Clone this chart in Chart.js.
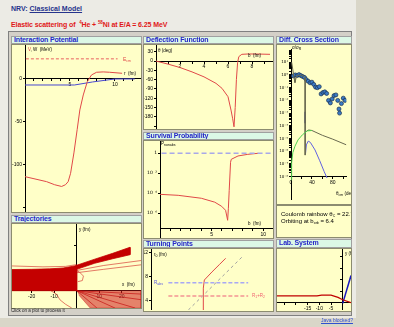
<!DOCTYPE html>
<html>
<head>
<meta charset="utf-8">
<title>NRV: Classical Model</title>
<script src="https://cdn.jsdelivr.net/npm/chart.js@4.4.1/dist/chart.umd.min.js"></script>
<style>
  body { margin:0; width:394px; height:327px; overflow:hidden; background:#d9d6c8; font-family:"Liberation Sans", Arial, sans-serif; }
  #page { position:absolute; left:0; top:0; width:356px; height:318px; background:#ecebe5; }
  #head { position:absolute; left:11px; top:5px; font:bold 7px "Liberation Sans"; color:#26348c; white-space:nowrap; }
  #sub { position:absolute; left:11px; top:21px; font:bold 7px "Liberation Sans"; color:#e01818; white-space:nowrap; letter-spacing:-0.1px; }
  #sub sup { font-size:4.5px; vertical-align:3px; line-height:0; }
  #applet { position:absolute; left:8px; top:31px; width:342px; height:283px; background:#d4d0c8; border:1px solid #808080; }
  .tb { position:absolute; box-sizing:border-box; height:8px; background:#dcf8e6; border:1px solid #a0a0a0; font:bold 7px/6px "Liberation Sans"; color:#2626c8; padding-left:2px; white-space:nowrap; overflow:hidden; letter-spacing:-0.15px; }
  .pl { position:absolute; background:#ffffc8; border:1px solid #8c8c70; overflow:hidden; }
  .pl canvas { position:absolute; left:0; top:0; }
  .t { position:absolute; font-size:4.5px; line-height:5px; white-space:nowrap; color:#000; }
  .t sub { font-size:3.5px; vertical-align:-1px; line-height:0; }
  #status { position:absolute; left:9px; top:308px; width:132px; height:6px; font-size:4.5px; line-height:6px; color:#222; padding-left:2px; box-sizing:border-box; }
  #java { position:absolute; left:321px; top:317px; font-size:5px; color:#3050d0; text-decoration:underline; }
</style>
</head>
<body>
<div id="page"></div>
<div id="head">NRV: <u>Classical Model</u></div>
<div id="sub">Elastic scattering of &nbsp;<sup>4</sup>He + <sup>58</sup>Ni at E/A = 6.25 MeV</div>
<div id="applet"></div>

<!-- Interaction Potential -->
<div class="tb" style="left:11px;top:36px;width:131px;">Interaction Potential</div>
<div class="pl" style="left:11px;top:44px;width:129px;height:167px;">
  <canvas id="cvPot" width="129" height="167"></canvas>
  <div class="t" style="left:16px;top:2px;"><span style="color:#e04848">V</span>, W &nbsp;(MeV)</div>
  <div class="t" style="left:111px;top:12px;color:#e04848;font-size:5px;">E<sub>cm</sub></div>
  <div class="t" style="left:112px;top:26px;">r &nbsp;(fm)</div>
</div>

<!-- Deflection Function -->
<div class="tb" style="left:143px;top:36px;width:131px;">Deflection Function</div>
<div class="pl" style="left:143px;top:44px;width:129px;height:84px;">
  <canvas id="cvDefl" width="129" height="84"></canvas>
  <div class="t" style="left:14px;top:3px;">&theta; (deg)</div>
  <div class="t" style="left:104px;top:8px;">b &nbsp;(fm)</div>
</div>

<!-- Survival Probability -->
<div class="tb" style="left:143px;top:132px;width:131px;">Survival Probability</div>
<div class="pl" style="left:143px;top:140px;width:129px;height:97px;">
  <canvas id="cvSurv" width="129" height="97"></canvas>
  <div class="t" style="left:17px;top:0px;">P<sub>nonabs</sub></div>
  <div class="t" style="left:104px;top:80px;">b &nbsp;(fm)</div>
</div>

<!-- Turning Points -->
<div class="tb" style="left:143px;top:240px;width:131px;">Turning Points</div>
<div class="pl" style="left:143px;top:248px;width:129px;height:62px;">
  <canvas id="cvTurn" width="129" height="61"></canvas>
  <div class="t" style="left:10px;top:3px;">r<sub>0</sub> (fm)</div>
  <div class="t" style="left:10px;top:31px;color:#5050e0;">R<sub>abs</sub></div>
  <div class="t" style="left:108px;top:44px;color:#f06070;">R<sub>1</sub>+R<sub>2</sub></div>
</div>

<!-- Diff. Cross Section -->
<div class="tb" style="left:276px;top:36px;width:76px;">Diff. Cross Section</div>
<div class="pl" style="left:276px;top:44px;width:74px;height:159px;">
  <canvas id="cvCs" width="74" height="159"></canvas>
  <div class="t" style="left:15px;top:0px;">&sigma;/&sigma;<sub>R</sub></div>
  <div class="t" style="left:59px;top:146px;">&theta;<sub>cm</sub> (deg)</div>
</div>

<!-- info box -->
<div class="pl" style="left:276px;top:205px;width:74px;height:31px;">
  <div class="t" style="left:4px;top:5px;font-size:6px;line-height:7px;">Coulomb rainbow &theta;<sub>C</sub> = 22.7&deg;</div>
  <div class="t" style="left:4px;top:12px;font-size:6px;line-height:7px;">Orbiting at b<sub>orb</sub> = 6.4</div>
</div>

<!-- Lab. System -->
<div class="tb" style="left:276px;top:239px;width:76px;height:9px;">Lab. System</div>
<div class="pl" style="left:276px;top:248px;width:74px;height:62px;">
  <canvas id="cvLab" width="74" height="61"></canvas>
  <div class="t" style="left:68px;top:2px;">y (fm)</div>
</div>

<!-- Trajectories -->
<div class="tb" style="left:11px;top:215px;width:131px;">Trajectories</div>
<div class="pl" style="left:11px;top:223px;width:129px;height:84px;">
  <canvas id="cvTraj" width="129" height="84"></canvas>
  <div class="t" style="left:67px;top:3px;">y (fm)</div>
  <div class="t" style="left:110px;top:58px;">x &nbsp;(fm)</div>
</div>
<div id="status">Click on a plot to process it</div>
<div id="java">Java blocked?</div>

<script>
// ---------- data ----------
// Interaction potential (MeV vs fm)
const potR = [0, 1, 2.4, 3.3, 4.07, 4.5, 4.8, 5.07, 5.44, 5.8, 6.1, 6.48, 6.93, 7.4, 7.96, 8.7, 9.4, 10.8];
const potV = [-113.6, -116, -119.4, -123, -125, -123, -119.4, -109.7, -86, -59, -36, -18.6, -3.1, 4.7, 7.8, 8.2, 7.8, 6.6];
const potWr = [0, 5.5, 7.5, 10, 12.2];
const potW = [-7, -7, -3.5, 0, 0];
const eCmR = [0.1, 10.3];
const eCm = [23.4, 23.4];

// Deflection function (deg vs b)
const deflB = [0, 1, 2, 3, 4, 5, 5.5, 6, 6.25, 6.39, 6.5, 6.6, 6.7, 6.8, 6.9, 7.15, 7.7, 8.5, 9.5];
const deflTheta = [0, -10, -21, -35, -51, -72, -88, -115, -158, -186, -212, -150, -60, -5, 14, 21.6, 22.7, 22.5, 21.6];
const deflYTicks = [-210, -180, -150, -120, -90, -60, -30, 0, 30];

// Survival probability
const survB = [0, 1.76, 4.0, 5.3, 5.97, 6.35, 6.55, 6.62, 6.7, 6.83, 6.9, 7.55, 8.5, 9.5];
const survP = [7.9e-5, 6.3e-5, 3.2e-5, 1.3e-5, 5e-6, 2e-6, 2e-7, 3.2e-6, 2e-4, 0.126, 0.25, 0.54, 0.79, 1.0];
const survRefB = [0.15, 10.8];
const survRef = [1, 1];
const survTicks = [1e-6, 1e-4, 1e-2, 1];
const survLabels = ['10⁻⁶', '10⁻⁴', '10⁻²', '1'];

// Turning points
const tpB = [5.06, 5.06, 5.16, 5.9, 6.6, 7.22];
const tpR = [2.4, 6.1, 7.45, 8.8, 10, 11.07];
const coulB = [3.61, 8.93];
const coulR = [2.45, 11.5];
const radB = [1.68, 9.4];
const rAbs = [7.0, 7.0];
const rSum = [4.8, 4.8];

// Differential cross section (ratio to Rutherford)
const csExpTheta = [4.7, 8.2, 11.8, 15.3, 18.8, 22.4, 25.9, 29.4, 32.9, 36.5, 40, 43.5, 47, 50.6, 54.1, 57.6, 61.2, 64.7, 68.2, 71.8, 75.3, 78.8, 82.4, 85.9, 89.4, 91.8, 92.9, 96.5, 100, 103.5];
const csExpRatio = [0.84, 1.0, 0.89, 1.06, 0.89, 0.75, 0.63, 0.42, 0.32, 0.24, 0.27, 0.18, 0.11, 0.1, 0.12, 0.032, 0.042, 0.047, 0.035, 0.01, 0.0063, 0.013, 0.024, 0.027, 0.01, 0.0021, 0.001, 0.0056, 0.015, 0.01];
const csNearTheta = [1.2, 3.5, 5.9, 7.6, 10.6, 15, 20, 25, 27, 27.1];
const csNearRatio = [10, 2.5, 0.56, 0.25, 0.85, 0.95, 0.95, 0.76, 0.6, 5e-7];
const csFarTheta = [30, 34, 40, 60, 80, 106];
const csFarRatio = [4e-5, 4.7e-5, 4.3e-5, 1.8e-5, 8.9e-6, 3.2e-6];
const csGreenTheta = [0, 1.2, 3.5, 7.6, 13.5, 22, 31, 40];
const csGreenRatio = [5.6e-9, 1.26e-7, 7.9e-7, 2.5e-6, 7.9e-6, 2e-5, 4e-5, 4.3e-5];
const csBlueTheta = [27.6, 29.4, 33, 37, 46, 55, 63.5, 69];
const csBlueRatio = [5.6e-7, 3.2e-6, 6.3e-6, 5e-6, 1.26e-6, 1.8e-7, 2.5e-8, 7.9e-9];
const csBarTheta = [27.2, 27.2];
const csBarRatio = [1.26e-3, 1.6e-4];
const csDecades = [1, 0, -1, -2, -3, -4, -5, -6, -7, -8];
const csDecadeLabels = ['10¹', '10⁰', '10⁻¹', '10⁻²', '10⁻³', '10⁻⁴', '10⁻⁵', '10⁻⁶', '10⁻⁷', '10⁻⁸'];

// Lab system
const labPX = [-28.1, -11, -9, -5, -2, 0, 3.55];
const labPY = [3.0, 3.0, 3.3, 3.3, 2.3, 1.3, 0];
const labTX = [0, 3.55];
const labTY = [-0.3, 11.8];

// Trajectories
const bandX = [-28.76, -20, -12, -6, -3, -1, 0, 0, -2, -28.76];
const bandY = [9.4, 9.5, 9.7, 10.1, 10.6, 11, 11.3, 0, 0, 0];
const fanUpX = [0, 8, 16, 23.7, 23.7, 16, 8, 0];
const fanUpY = [11.3, 14, 16.6, 19.3, 16, 14.2, 12.2, 9.5];
const fanLowX = [0, 28.6, 28.6, 6, 1];
const fanLowY = [0, 0, -7.7, -7.7, -2];
const thin1X = [0, 12, 28.6], thin1Y = [9, 11.2, 13.4];
const thin2X = [0, 12, 28.6], thin2Y = [8, 9.5, 11.5];
const thin3X = [-12, -9, -7.4, -5, -2.2], thin3Y = [0.3, -1.5, -4.1, -6, -7.7];
const thin4X = [-1, 1, 3, 2.5, 0.5], thin4Y = [9, 8.5, 6.5, 4.5, 4];
const thin5X = [-28.76, -15, -5, 0], thin5Y = [11, 10.6, 10.8, 11.6];
const lowRayX = [0, 28.6, 0, 28.6, 0, 26, 0, 17, 0, 9];
const lowRayY = [0, -1.5, 0, -4, 0, -7.7, 0, -7.7, 0, -7.7];

// ---------- helpers ----------
Chart.defaults.font.family = '"Liberation Sans", Arial, sans-serif';
Chart.defaults.font.size = 5;
Chart.defaults.color = '#000';

const pts = (xs, ys) => xs.map((x, i) => ({x: x, y: ys[i]}));

function line(xs, ys, color, width, dash) {
	return {data: pts(xs, ys), showLine: true, borderColor: color, borderWidth: width || 1,
		borderDash: dash || [], pointRadius: 0, fill: false, tension: 0};
}
function shape(xs, ys, color) {
	return {data: pts(xs, ys), showLine: true, borderColor: color, borderWidth: 0.8,
		backgroundColor: color, pointRadius: 0, fill: 'shape', tension: 0};
}

// axis boxes take no room, except a left axis that keeps just the margin for its labels
function fitTo(w) {
	return (s) => {
		if (s.isHorizontal()) s.height = 0; else s.width = w;
		s.paddingLeft = s.paddingRight = s.paddingTop = s.paddingBottom = 0;
	};
}

function axis(min, max, pos, step, label, w, extra) {
	return Object.assign({
		type: 'linear', min: min, max: max, position: pos,
		afterFit: fitTo(w || 0),
		border: {color: '#000', width: 1},
		grid: {drawOnChartArea: false, tickLength: 2, color: '#000'},
		ticks: {stepSize: step, includeBounds: false, autoSkip: false, maxRotation: 0, padding: 1, callback: label}
	}, extra || {});
}
const only = (list) => (v) => list.includes(v) ? String(v) : '';
const none = () => '';

function plot(id, datasets, scales) {
	return new Chart(document.getElementById(id), {
		type: 'scatter',
		data: {datasets},
		options: {
			responsive: false, animation: false, devicePixelRatio: 1,
			layout: {padding: 0},
			plugins: {legend: {display: false}, tooltip: {enabled: false}},
			scales
		}
	});
}

// ---------- charts ----------
plot('cvPot', [
	line(potR, potV, '#e04848', 1),
	line(potWr, potW, '#4848d0', 1),
	line(eCmR, eCm, '#e86060', 1, [3, 2])
], {
	x: axis(0, 12.9, {y: 0}, 1, only([5, 10])),
	y: axis(-154.7, 39.5, 'left', 50, only([0, -50, -100]), 13)
});

plot('cvDefl', [line(deflB, deflTheta, '#e04848', 1)], {
	x: axis(0, 9.75, {y: 0}, 1, only([2, 4, 6, 8])),
	y: axis(-219, 51.6, 'left', 30, (v) => v >= -180 ? String(v) : '', 12, {
		afterBuildTicks: (s) => { s.ticks = deflYTicks.map((v) => ({value: v})); }
	})
});

plot('cvSurv', [
	line(survRefB, survRef, '#a8a8e8', 1.5, [5, 3]),
	line(survB, survP, '#e04848', 1)
], {
	x: axis(0, 10.94, {y: 3e-8}, 1, only([5, 10])),
	y: axis(3.4e-9, 17, 'left', undefined, none, 16, {
		type: 'logarithmic',
		afterBuildTicks: (s) => { s.ticks = survTicks.map((v) => ({value: v})); },
		ticks: {autoSkip: false, padding: 1, font: {family: 'DejaVu Sans', size: 4.5},
			callback: (v) => survLabels[survTicks.findIndex((t) => Math.abs(t - v) <= t * 1e-6)] || ''}
	})
});

plot('cvTurn', [
	line(radB, rAbs, '#a8a8f4', 1.5, [4, 2]),
	line(radB, rSum, '#f49494', 1.5, [4, 2]),
	line(coulB, coulR, '#a0a0a0', 1, [3, 3]),
	line(tpB, tpR, '#e04848', 1)
], {
	x: {type: 'linear', min: 0, max: 11.8, display: false, afterFit: fitTo(0)},
	y: axis(2.45, 12.62, 'left', 4, only([4, 8, 12]), 7)
});

plot('cvCs', [
	line(csGreenTheta, csGreenRatio, '#50d050', 1),
	line(csNearTheta, csNearRatio, '#6a6a50', 1),
	line(csFarTheta, csFarRatio, '#6a6a50', 1),
	line(csBlueTheta, csBlueRatio, '#6060e0', 1),
	line(csBarTheta, csBarRatio, '#2020a0', 1.5),
	{data: pts(csExpTheta, csExpRatio), showLine: false, pointRadius: 2, pointBackgroundColor: '#3a7ac4',
		pointBorderColor: '#1a3050', pointBorderWidth: 0.7}
], {
	x: axis(0, 105.8, {y: 1e-8}, 20, only([0, 40, 80])),
	y: axis(1.68e-10, 96.4, 'left', undefined, none, 14, {
		type: 'logarithmic',
		afterBuildTicks: (s) => {
			const t = [];
			csDecades.forEach((d) => {
				t.push({value: Math.pow(10, d)});
				for (let k = 2; k < 10; k++) {
					const v = k * Math.pow(10, d);
					if (v < 96.4) t.push({value: v});
				}
			});
			s.ticks = t.sort((a, b) => a.value - b.value);
		},
		ticks: {autoSkip: false, padding: 1, font: {family: 'DejaVu Sans', size: 4},
			callback: (v) => {
				const e = Math.log10(v);
				const r = Math.round(e);
				return Math.abs(e - r) < 1e-6 ? (csDecadeLabels[csDecades.indexOf(r)] || '') : '';
			}}
	})
});

plot('cvLab', [
	line(labPX, labPY, '#c00000', 1.2),
	line(labTX, labTY, '#1818c0', 1.5)
], {
	x: axis(-28.1, 3.55, {y: 0}, 5, only([-15, -10, -5])),
	y: axis(-3.17, 23.3, {x: 0}, 5, none)
});

const lowRays = [];
for (let i = 0; i < lowRayX.length; i += 2) {
	lowRays.push(line(lowRayX.slice(i, i + 2), lowRayY.slice(i, i + 2), '#b80000', 0.7));
}

plot('cvTraj', [
	shape(fanLowX, fanLowY, 'rgba(205,30,30,0.55)'),
	...lowRays,
	shape(bandX, bandY, '#c40000'),
	shape(fanUpX, fanUpY, '#c40000'),
	line(thin1X, thin1Y, '#d02020', 0.6),
	line(thin2X, thin2Y, '#d02020', 0.6),
	line(thin3X, thin3Y, '#d02020', 0.6),
	line(thin4X, thin4Y, '#d02020', 0.6),
	line(thin5X, thin5Y, '#d02020', 0.6)
], {
	x: axis(-28.76, 28.58, {y: 0}, 10, only([-20, -10, 10, 20])),
	y: axis(-7.69, 29.64, {x: 0}, 10, none)
});
</script>
</body>
</html>
